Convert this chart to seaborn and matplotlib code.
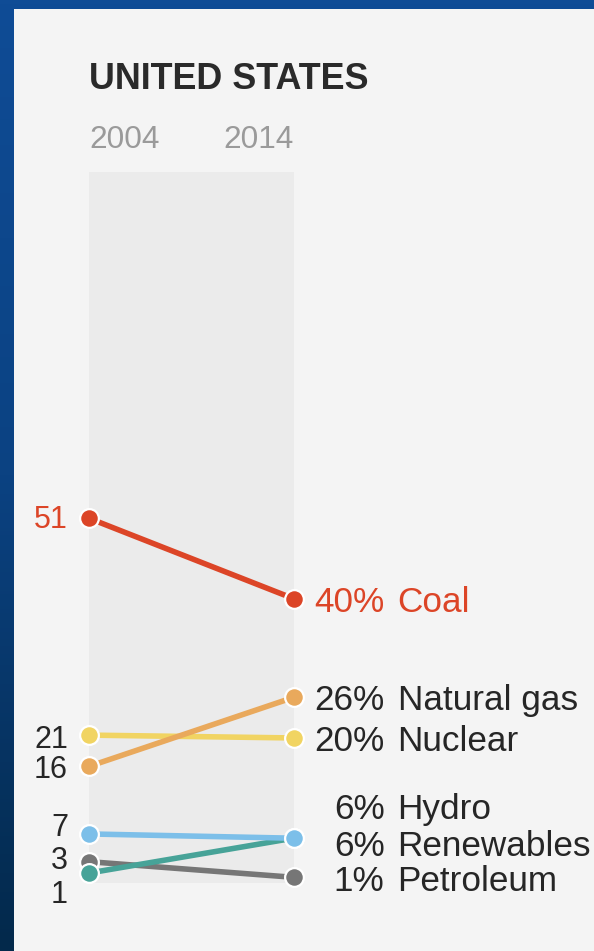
import numpy as np
import pandas as pd
import matplotlib
matplotlib.use("Agg")
import matplotlib.pyplot as plt
from matplotlib.patches import Rectangle
from matplotlib.colors import LinearSegmentedColormap
import seaborn as sns

# ---------------- data ----------------
title = "UNITED STATES"
years = [2004, 2014]
sources = ["Coal", "Natural gas", "Nuclear", "Hydro", "Renewables", "Petroleum"]
share_2004 = [51.3, 16.4, 20.8, 6.9, 1.4, 3.0]
share_2014 = [40.0, 26.1, 20.4, 6.3, 6.3, 0.8]

# ---------------- styles ----------------
palette = {
    "Coal": "#dc4527",
    "Natural gas": "#e9a95c",
    "Nuclear": "#f1d462",
    "Hydro": "#7cbfe9",
    "Renewables": "#47a398",
    "Petroleum": "#767676",
}
draw_order = ["Petroleum", "Renewables", "Hydro", "Nuclear", "Natural gas", "Coal"]
text_dark = "#262626"
# label nudges in pixels (positive = downwards) to keep labels apart
left_nudge = {"Coal": -1, "Natural gas": 1, "Nuclear": 2, "Hydro": -9, "Renewables": 19, "Petroleum": -4}
right_nudge = {"Coal": 1, "Natural gas": 0, "Nuclear": 1, "Hydro": -32, "Renewables": 5, "Petroleum": 1}

rows = []
for s, a, b in zip(sources, share_2004, share_2014):
    rows.append({"source": s, "year": years[0], "share": a})
    rows.append({"source": s, "year": years[1], "share": b})
df = pd.DataFrame(rows)

sns.set_theme(style="white")
plt.rcParams["font.family"] = ["Liberation Sans", "DejaVu Sans"]

W, H = 594, 951
fig = plt.figure(figsize=(W / 100, H / 100), dpi=100)

# background: blue frame + light panel
bg = fig.add_axes([0, 0, 1, 1], zorder=-10)
grad = np.linspace(0, 1, 256).reshape(-1, 1)
cmap = LinearSegmentedColormap.from_list("bg", ["#0f4c96", "#0b4282", "#03294b"])
bg.imshow(grad, aspect="auto", cmap=cmap, extent=[0, 1, 0, 1], origin="upper")
bg.add_patch(Rectangle((14 / W, 0), 1 - 14 / W, 1 - 9 / H, transform=bg.transAxes,
                       facecolor="#f4f4f4", edgecolor="none"))
bg.set_xlim(0, 1)
bg.set_ylim(0, 1)
bg.set_axis_off()

# main axes
x0, x1, ytop, ybot = 89, 293.5, 172, 883
ax = fig.add_axes([x0 / W, (H - ybot) / H, (x1 - x0) / W, (ybot - ytop) / H])
ax.patch.set_alpha(0)
ax.axvspan(years[0], years[1], color="#ebebeb", lw=0, zorder=0)

sns.lineplot(data=df, x="year", y="share", hue="source", hue_order=draw_order,
             palette=palette, marker="o", markersize=13.5, markeredgecolor="white",
             markeredgewidth=1.6, linewidth=4.0, legend=False, errorbar=None,
             ax=ax, clip_on=False)
ax.set_xlim(years[0], years[1])
ax.set_ylim(0, 100)
ax.set_axis_off()

def yfrac(py):
    return (ybot - py) / (ybot - ytop)

tr = ax.get_xaxis_transform()
ax.text(years[0], yfrac(89), title, transform=tr, ha="left", va="baseline",
        fontsize=25.8, fontweight="bold", color="#2a2a2a")
ax.text(years[0], yfrac(148), str(years[0]), transform=tr, ha="left", va="baseline",
        fontsize=22.8, color="#9a9a9a")
ax.text(years[1], yfrac(148), str(years[1]), transform=tr, ha="right", va="baseline",
        fontsize=22.8, color="#9a9a9a")

for s, a, b in zip(sources, share_2004, share_2014):
    col = palette["Coal"] if s == "Coal" else text_dark
    ax.annotate(f"{round(a)}", xy=(years[0], a), xytext=(-21, -(left_nudge[s] + 11)),
                textcoords="offset pixels", ha="right", va="baseline",
                fontsize=22, color=col, annotation_clip=False)
    base = -(right_nudge[s] + 12.5)
    ax.annotate(f"{round(b)}%", xy=(years[1], b), xytext=(91, base),
                textcoords="offset pixels", ha="right", va="baseline",
                fontsize=25.3, color=col, annotation_clip=False)
    ax.annotate(s, xy=(years[1], b), xytext=(104, base),
                textcoords="offset pixels", ha="left", va="baseline",
                fontsize=25.3, color=col, annotation_clip=False)

fig.savefig("out.png", dpi=100)
